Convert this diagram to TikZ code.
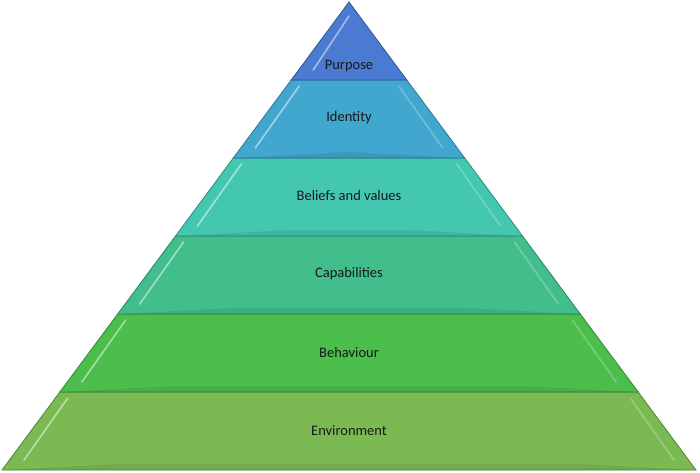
\documentclass[tikz,border=0pt]{standalone}
\usepackage{fontspec}
\setmainfont{Carlito}
\usetikzlibrary{positioning, calc}

\definecolor{purposeC}{HTML}{4A7AD2}
\definecolor{identityC}{HTML}{41A7CF}
\definecolor{beliefsC}{HTML}{43C7B1}
\definecolor{capabC}{HTML}{41BE8C}
\definecolor{behavC}{HTML}{4CBE4C}
\definecolor{envC}{HTML}{7BBA52}

\begin{document}
\begin{tikzpicture}[
    x=1pt, y=-1pt,
    layer/.style={draw=#1!70!black, line width=0.8pt, fill=#1},
    shine/.style={draw=white, opacity=0.5, line width=1.6pt, line cap=round},
    shade/.style={fill=black, opacity=0.08},
    label/.style={font=\fontsize{14.5}{17}\selectfont, text=black!90}
]
    % --- frame ---
    \useasboundingbox (0,0) rectangle (700,472);

    % --- layer corners ---
    \coordinate (apex) at (349,2);
    \coordinate (l1) at (291.2,80);  \coordinate (r1) at (406.8,80);
    \coordinate (l2) at (233.3,158); \coordinate (r2) at (464.7,158);
    \coordinate (l3) at (175.5,236); \coordinate (r3) at (522.5,236);
    \coordinate (l4) at (117.7,314); \coordinate (r4) at (580.3,314);
    \coordinate (l5) at (59.8,392);  \coordinate (r5) at (638.2,392);
    \coordinate (l6) at (2,470);     \coordinate (r6) at (696,470);

    % --- layers ---
    \path [layer=envC] (l5) -- (r5) -- (r6) -- (l6) -- cycle;
    \path [layer=behavC] (l4) -- (r4) -- (r5) -- (l5) -- cycle;
    \path [layer=capabC] (l3) -- (r3) -- (r4) -- (l4) -- cycle;
    \path [layer=beliefsC] (l2) -- (r2) -- (r3) -- (l3) -- cycle;
    \path [layer=identityC] (l1) -- (r1) -- (r2) -- (l2) -- cycle;
    \path [layer=purposeC] (apex) -- (r1) -- (l1) -- cycle;

    % --- bevel shadows ---
    \fill [shade] ($(l5)+(56,72)$) -- ($(r5)+(-56,72)$) -- ($(r6)+(-2,0)$) -- ($(l6)+(2,0)$) -- cycle;
    \fill [shade] ($(l4)+(56,72)$) -- ($(r4)+(-56,72)$) -- ($(r5)+(-2,0)$) -- ($(l5)+(2,0)$) -- cycle;
    \fill [shade] ($(l3)+(56,72)$) -- ($(r3)+(-56,72)$) -- ($(r4)+(-2,0)$) -- ($(l4)+(2,0)$) -- cycle;
    \fill [shade] ($(l2)+(56,72)$) -- ($(r2)+(-56,72)$) -- ($(r3)+(-2,0)$) -- ($(l3)+(2,0)$) -- cycle;
    \fill [shade] ($(l1)+(56,72)$) -- ($(r1)+(-56,72)$) -- ($(r2)+(-2,0)$) -- ($(l2)+(2,0)$) -- cycle;

    % --- bevel highlights ---
    \draw [shine] ($(l5)+(8,6)$) -- ($(l6)+(22,-10)$);
    \draw [shine] ($(l4)+(8,6)$) -- ($(l5)+(22,-10)$);
    \draw [shine] ($(l3)+(8,6)$) -- ($(l4)+(22,-10)$);
    \draw [shine] ($(l2)+(8,6)$) -- ($(l3)+(22,-10)$);
    \draw [shine] ($(l1)+(8,6)$) -- ($(l2)+(22,-10)$);
    \draw [shine] ($(apex)+(0,14)$) -- ($(l1)+(22,-10)$);
    \draw [shine, opacity=0.25] ($(r5)+(-8,6)$) -- ($(r6)+(-22,-10)$);
    \draw [shine, opacity=0.25] ($(r4)+(-8,6)$) -- ($(r5)+(-22,-10)$);
    \draw [shine, opacity=0.25] ($(r3)+(-8,6)$) -- ($(r4)+(-22,-10)$);
    \draw [shine, opacity=0.25] ($(r2)+(-8,6)$) -- ($(r3)+(-22,-10)$);
    \draw [shine, opacity=0.25] ($(r1)+(-8,6)$) -- ($(r2)+(-22,-10)$);

    % --- labels ---
    \node [label] (purpose) at (349,66) {Purpose};
    \node [label] (identity) at (349,118) {Identity};
    \node [label] (beliefs) at (349,196) {Beliefs and values};
    \node [label] (capab) at (349,274) {Capabilities};
    \node [label] (behav) at (349,353) {Behaviour};
    \node [label] (env) at (349,431) {Environment};
\end{tikzpicture}
\end{document}
